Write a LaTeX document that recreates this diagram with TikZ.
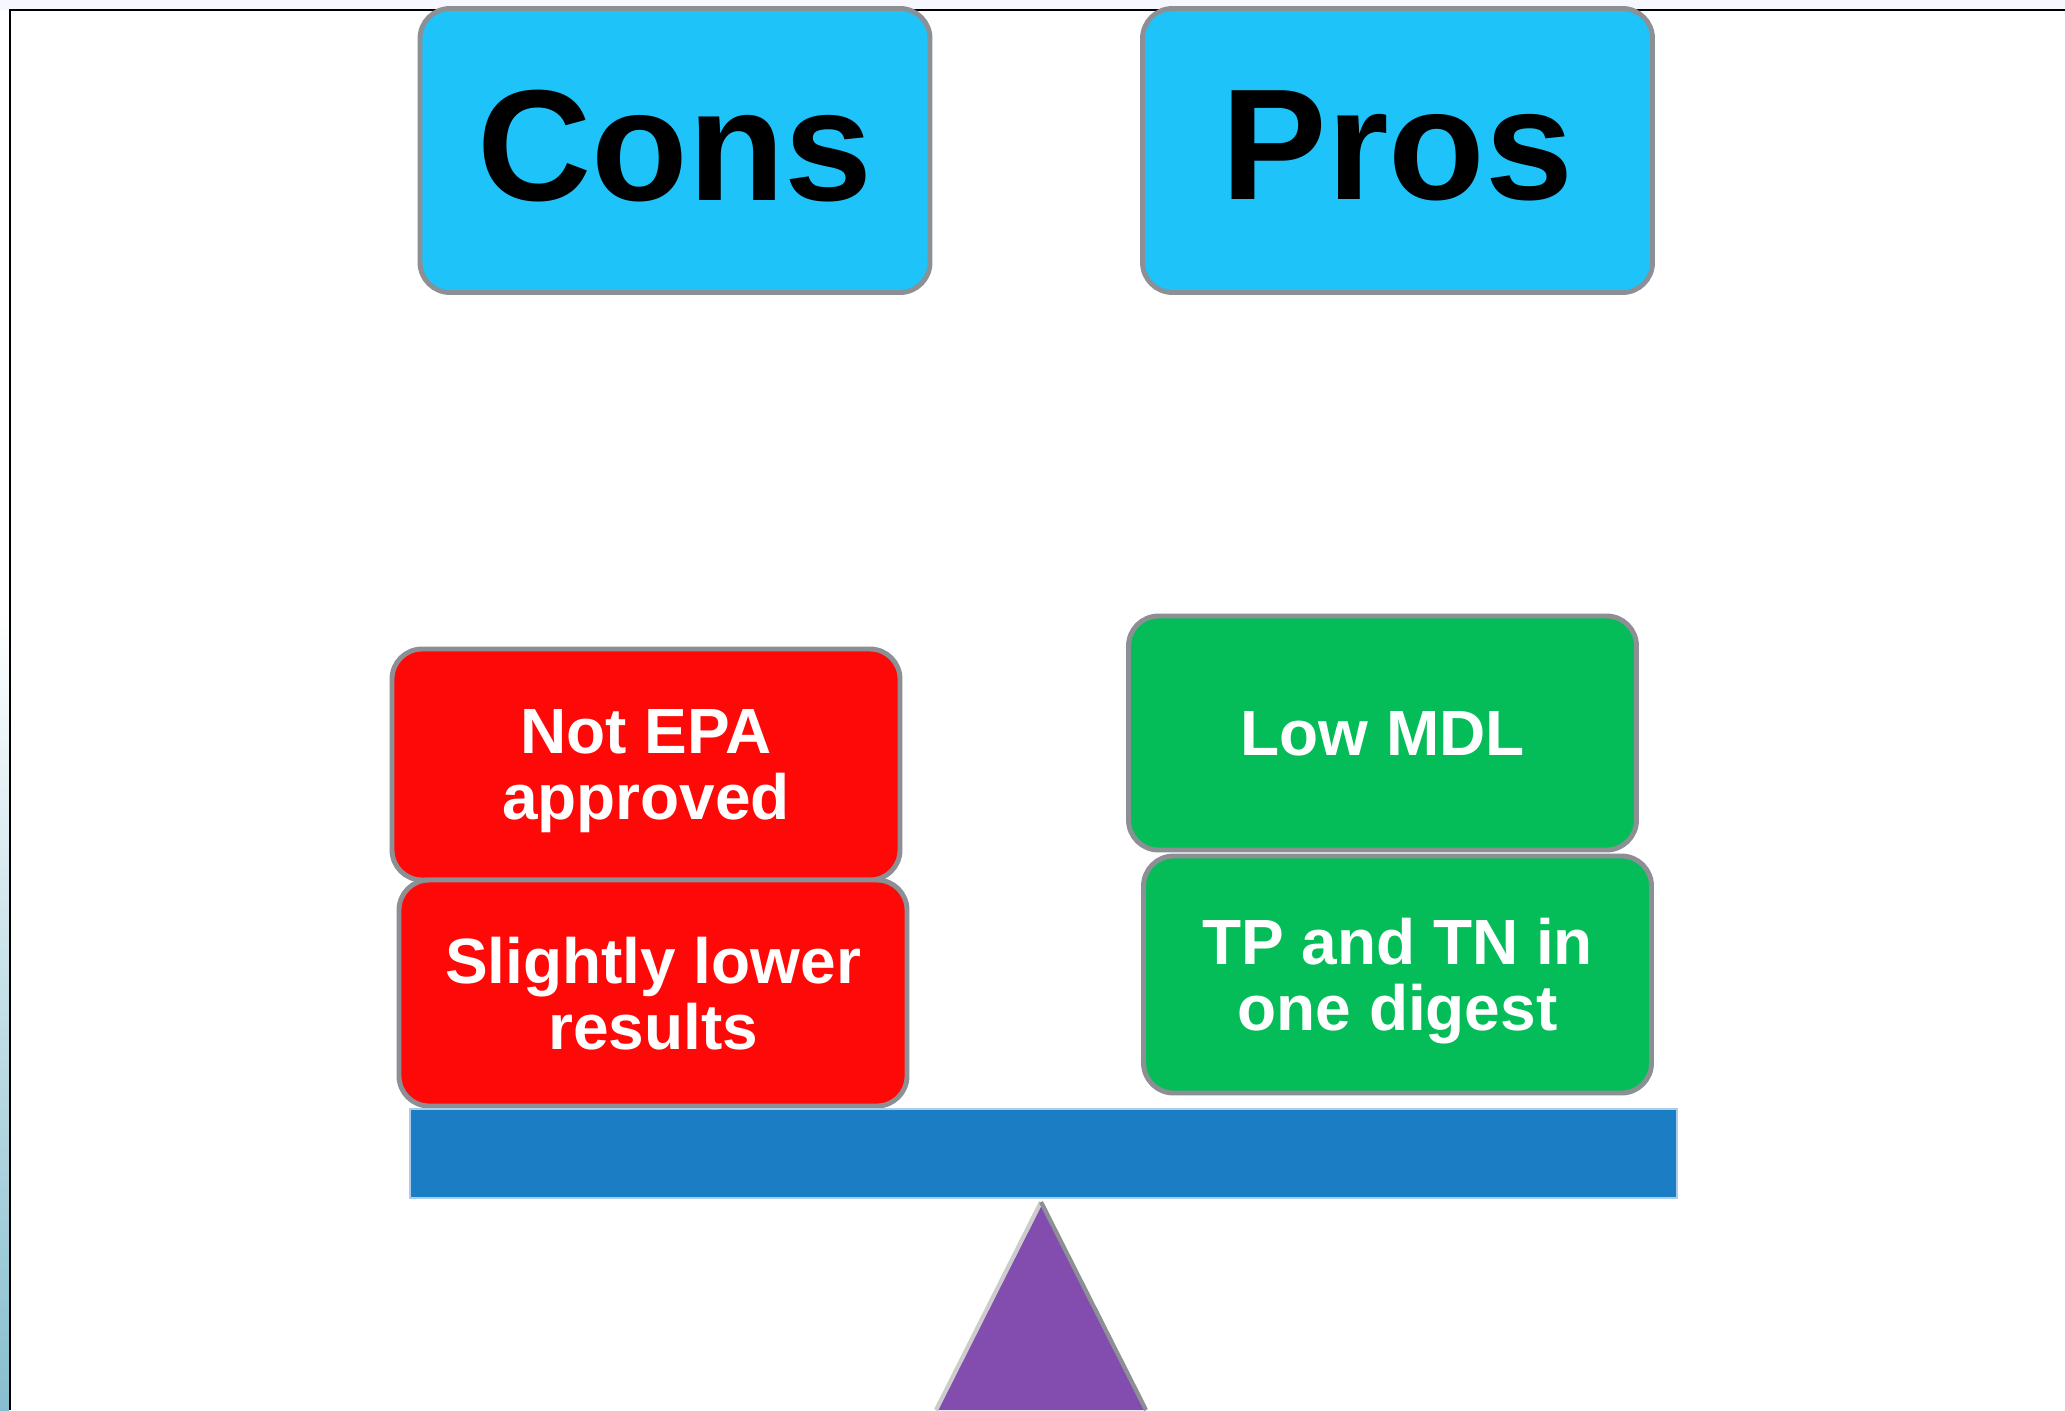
\documentclass[tikz,border=0pt]{standalone}
\usepackage{fontspec}
\setmainfont{Liberation Sans}
\usetikzlibrary{calc}
\definecolor{biru}{RGB}{30,195,250}
\definecolor{merah}{RGB}{255,8,8}
\definecolor{hijau}{RGB}{5,189,88}
\definecolor{papan}{RGB}{27,125,196}
\definecolor{ungu}{RGB}{131,76,175}
\definecolor{tepi}{RGB}{140,143,148}

\begin{document}
\begin{tikzpicture}[
    judul/.style={draw=tepi,line width=1.4pt,fill=biru,rounded corners=0.3cm,
      minimum width=5.1cm,minimum height=2.84cm,text depth=0.1cm,
      font=\fontsize{45}{48}\selectfont\bfseries},
    kotak/.style={draw=tepi,line width=1.4pt,rounded corners=0.3cm,
      text=white,align=center,minimum width=5.08cm,text depth=0pt,
      font=\fontsize{18.2}{18.8}\selectfont\bfseries}]
  \useasboundingbox (0,0) rectangle (20.65,14.10);
  \fill[blue!3] (0,14.0) rectangle (20.65,14.10);
  \shade[bottom color={rgb,255:red,135;green,190;blue,207},top color=white]
    (0,0) rectangle (0.09,8);
  \draw[line width=0.85pt] (0.10,0) -- (0.10,14.00) -- (20.65,14.00);

  \coordinate (T) at (10.41,2.08);
  \coordinate (L) at (9.36,0);
  \coordinate (R) at (11.46,0);

  \node[judul] (Cons) at (6.75,12.595) {Cons};
  \node[judul] (Pros) at (13.975,12.595) {Pros};

  \node[kotak,fill=merah,minimum height=2.31cm] (R1) at (6.46,6.455) {Not EPA\\approved};
  \node[kotak,fill=merah,minimum height=2.26cm] (R2) at (6.53,4.17) {Slightly lower\\results};
  \node[kotak,fill=hijau,minimum height=2.34cm] (G1) at (13.825,6.77) {Low MDL};
  \node[kotak,fill=hijau,minimum height=2.37cm] (G2) at (13.975,4.355) {TP and TN in\\one digest};

  \node[draw={rgb,255:red,170;green,205;blue,235},line width=0.8pt,fill=papan,
    minimum width=12.67cm,minimum height=0.89cm] (beam) at (10.435,2.565) {};

  \fill[ungu] (T) -- (L) -- (R) -- cycle;
  \draw[line width=1.2pt,gray!40] (L) -- (T);
  \draw[line width=1.2pt,tepi] (T) -- (R);
\end{tikzpicture}
\end{document}
